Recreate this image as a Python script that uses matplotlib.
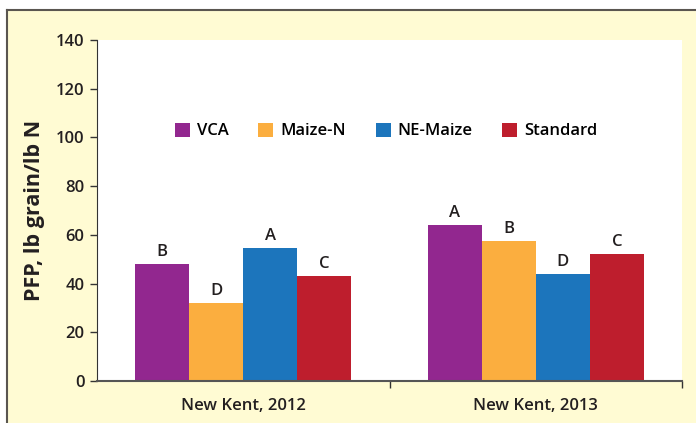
import numpy as np
import matplotlib
matplotlib.use('Agg')
from matplotlib import pyplot as plt
from matplotlib.patches import Rectangle
import matplotlib.lines as mlines

sites = ['New Kent, 2012', 'New Kent, 2013']
series = ['VCA', 'Maize-N', 'NE-Maize', 'Standard']
vca = [48.0, 64.0]
maize_n = [32.0, 57.5]
ne_maize = [54.6, 44.0]
standard = [43.1, 52.1]
letters = [['B', 'A'], ['D', 'B'], ['A', 'D'], ['C', 'C']]
colors = ['#92278F', '#FBAE3F', '#1C75BC', '#BE1E2D']

plt.rcParams['font.family'] = ['Open Sans', 'DejaVu Sans']
wt = 'semibold'
txt = '#231F20'

fig = plt.figure(figsize=(6.96, 4.23), dpi=100)
fig.patch.set_facecolor('white')
# yellow panel with border on top and left
x0, y0 = 7 / 696, 0.0
y1 = 1 - 10 / 423
fig.patches.append(Rectangle((x0, y0), 1 - x0, y1, transform=fig.transFigure,
                             facecolor='#FFFBD3', edgecolor='none', zorder=-2))
fig.lines.append(mlines.Line2D([x0, 1], [y1, y1], transform=fig.transFigure,
                               color='#5A5650', lw=1.5, zorder=-1))
fig.lines.append(mlines.Line2D([x0, x0], [0, y1], transform=fig.transFigure,
                               color='#5A5650', lw=1.5, zorder=-1))

ax = fig.add_axes([97 / 696, 42 / 423, (682 - 97) / 696, (381 - 40) / 423])
ax.set_zorder(1)
ax.set_facecolor('white')

x = np.arange(len(sites))
w = 0.185
data = [vca, maize_n, ne_maize, standard]
for i, vals in enumerate(data):
    pos = x + (i - 1.5) * w
    ax.bar(pos, vals, width=w, color=colors[i], label=series[i], zorder=2)
    for p, v, l in zip(pos, vals, letters[i]):
        ax.annotate(l, (p, v), xytext=(0, 3), textcoords='offset points',
                    ha='center', va='bottom', fontsize=12, fontweight=wt,
                    color=txt)

ax.set_xlim(-0.5, 1.5)
ax.set_ylim(0, 140)
ax.set_yticks(range(0, 141, 20))
ax.set_xticks([0.5, 1.5])
ax.set_xticklabels([])
ax.set_xticks(x, minor=True)
ax.set_xticklabels(sites, minor=True, fontsize=12, fontweight=wt, color=txt)
ax.tick_params(axis='x', which='minor', length=0, pad=12)
ax.tick_params(axis='x', which='major', length=5, width=1, color='#333333')
ax.tick_params(axis='y', length=5, width=1, color='#333333', labelsize=12,
               labelcolor=txt, pad=4)
for lab in ax.get_yticklabels():
    lab.set_fontweight(wt)
for s in ['top', 'right']:
    ax.spines[s].set_visible(False)
ax.spines['left'].set_color('#333333')
ax.spines['bottom'].set_color('#555555')
ax.spines['bottom'].set_linewidth(1.5)
ax.set_ylabel('PFP, lb grain/lb N', fontsize=15.5, fontweight='bold', color=txt,
              labelpad=8)

ax.legend(loc='center', bbox_to_anchor=(0.494, 0.733), ncol=4, frameon=False,
          handlelength=0.9, handleheight=0.9, handletextpad=0.4,
          columnspacing=1.8, prop={'weight': wt, 'size': 12})

fig.savefig('out.png', dpi=100)
